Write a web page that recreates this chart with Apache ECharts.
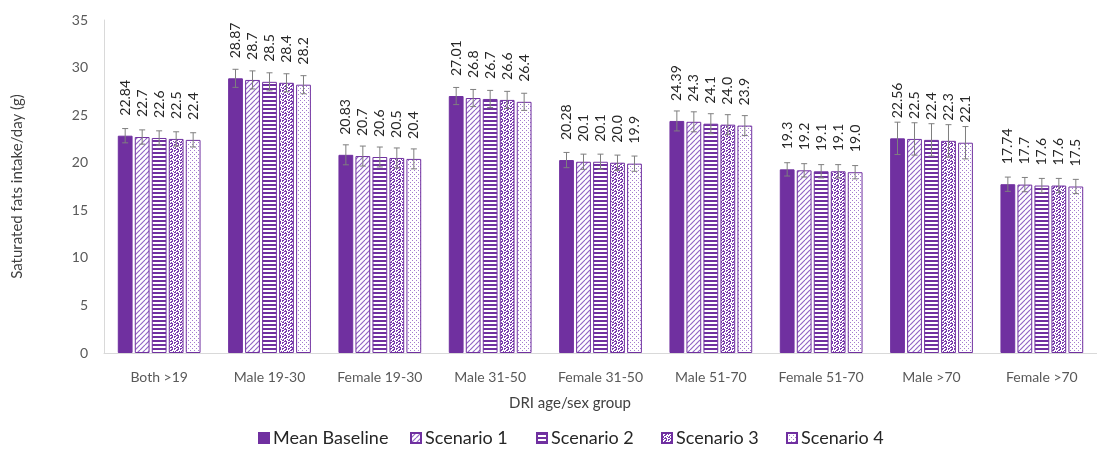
<!DOCTYPE html>
<html>
<head>
<meta charset="utf-8">
<script src="https://cdn.jsdelivr.net/npm/echarts@6/dist/echarts.min.js"></script>
<style>
  html, body { margin: 0; padding: 0; background: #ffffff; }
  #chart { width: 1097px; height: 450px; }
</style>
</head>
<body>
<div id="chart"></div>
<script>
// ---- Data -------------------------------------------------------------
const categories = ['Both >19', 'Male 19-30', 'Female 19-30', 'Male 31-50', 'Female 31-50',
                    'Male 51-70', 'Female 51-70', 'Male >70', 'Female >70'];
const seriesNames = ['Mean Baseline', 'Scenario 1', 'Scenario 2', 'Scenario 3', 'Scenario 4'];

const meanBaseline = [22.84, 28.87, 20.83, 27.01, 20.28, 24.39, 19.3, 22.56, 17.74];
const scenario1    = [22.7, 28.7, 20.7, 26.8, 20.1, 24.3, 19.2, 22.5, 17.7];
const scenario2    = [22.6, 28.5, 20.6, 26.7, 20.1, 24.1, 19.1, 22.4, 17.6];
const scenario3    = [22.5, 28.4, 20.5, 26.6, 20.0, 24.0, 19.1, 22.3, 17.6];
const scenario4    = [22.4, 28.2, 20.4, 26.4, 19.9, 23.9, 19.0, 22.1, 17.5];

// Half-width of the error bar for each age/sex group (g/day)
const errorMargins = [0.75, 0.95, 1.05, 0.9, 0.8, 1.05, 0.7, 1.7, 0.75];

const yMin = 0, yMax = 35, yInterval = 5;

// ---- Styling ----------------------------------------------------------
const PURPLE = '#7030a0';
const FONT = 'Lato, "Open Sans", sans-serif';
const BAR_GAP = 0.15, CATEGORY_GAP = 0.25;

function makePattern(size, draw) {
  const c = document.createElement('canvas');
  c.width = size; c.height = size;
  const ctx = c.getContext('2d');
  ctx.fillStyle = '#ffffff';
  ctx.fillRect(0, 0, size, size);
  draw(ctx, size);
  return { image: c, repeat: 'repeat' };
}
function pixelPattern(rows, color) {
  return makePattern(rows.length, (ctx) => {
    ctx.fillStyle = color;
    rows.forEach((r, y) => { for (let x = 0; x < r.length; x++) if (r[x] === 'X') ctx.fillRect(x, y, 1, 1); });
  });
}

const fills = [
  PURPLE,
  // wide upward diagonal
  makePattern(5, (ctx, s) => {
    ctx.strokeStyle = '#9266c6';
    ctx.lineWidth = 1.2;
    for (let o = -s; o <= s; o += s) {
      ctx.beginPath(); ctx.moveTo(o, s); ctx.lineTo(o + s, 0); ctx.stroke();
    }
  }),
  // horizontal stripes
  makePattern(4, (ctx, s) => { ctx.fillStyle = PURPLE; ctx.fillRect(0, 0, s, 2); }),
  // large confetti
  pixelPattern([
    'XX..X.',
    'X..XX.',
    '..XX..',
    '.X...X',
    'XX.X..',
    '..XXX.'
  ], '#7a3dad'),
  // small dots
  pixelPattern([
    'X...',
    '....',
    '..X.',
    '....'
  ], '#a47ccf')
];

const seriesValues = [meanBaseline, scenario1, scenario2, scenario3, scenario4];

const barSeries = seriesValues.map((vals, i) => ({
  type: 'bar',
  name: seriesNames[i],
  data: vals,
  barGap: (BAR_GAP * 100) + '%',
  barCategoryGap: (CATEGORY_GAP * 100) + '%',
  itemStyle: { color: fills[i], borderColor: PURPLE, borderWidth: 1 },
  label: {
    show: true,
    position: 'top',
    distance: 20,
    rotate: 90,
    align: 'left',
    verticalAlign: 'middle',
    fontFamily: FONT,
    fontSize: 14,
    color: '#262626',
    formatter: (p) => i === 0 ? String(p.value) : p.value.toFixed(1)
  },
  emphasis: { disabled: true },
  z: 2
}));

const errorSeries = seriesValues.map((vals, i) => ({
  type: 'custom',
  name: 'err-' + i,
  silent: true,
  z: 5,
  data: vals.map((v, j) => [j, v - errorMargins[j], v + errorMargins[j]]),
  renderItem(params, api) {
    const x = api.value(0);
    const lo = api.coord([x, api.value(1)]);
    const hi = api.coord([x, api.value(2)]);
    const band = api.size([1, 0])[0];
    const used = band * (1 - CATEGORY_GAP);
    const n = seriesValues.length;
    const w = used / (n + (n - 1) * BAR_GAP);
    const cx = lo[0] - used / 2 + i * w * (1 + BAR_GAP) + w / 2;
    const cap = 3;
    const style = { stroke: '#7f7f7f', lineWidth: 1 };
    return {
      type: 'group',
      children: [
        { type: 'line', shape: { x1: cx, y1: hi[1], x2: cx, y2: lo[1] }, style },
        { type: 'line', shape: { x1: cx - cap, y1: hi[1], x2: cx + cap, y2: hi[1] }, style },
        { type: 'line', shape: { x1: cx - cap, y1: lo[1], x2: cx + cap, y2: lo[1] }, style }
      ]
    };
  }
}));

const legendLefts = [258, 410, 536, 661, 786];
const legends = seriesNames.map((name, i) => ({
  data: [name],
  left: legendLefts[i],
  top: 429,
  padding: 0,
  icon: 'rect',
  itemWidth: 10,
  itemHeight: 10,
  itemGap: 0,
  selectedMode: false,
  textStyle: { fontFamily: FONT, fontSize: 18, color: '#262626', padding: [0, 0, 0, -1] }
}));

const chart = echarts.init(document.getElementById('chart'), null, { renderer: 'canvas' });
chart.setOption({
  animation: false,
  backgroundColor: '#ffffff',
  grid: { left: 104, top: 20, width: 1008, height: 333, containLabel: false },
  legend: legends,
  xAxis: {
    type: 'category',
    data: categories,
    axisLine: { lineStyle: { color: '#d9d9d9', width: 1 } },
    axisTick: { show: false },
    axisLabel: { fontFamily: FONT, fontSize: 14, color: '#595959', margin: 17, interval: 0 }
  },
  yAxis: {
    type: 'value',
    min: yMin,
    max: yMax,
    interval: yInterval,
    name: 'Saturated fats intake/day (g)',
    nameLocation: 'middle',
    nameGap: 79,
    nameTextStyle: { fontFamily: FONT, fontSize: 15, color: '#404040' },
    axisLine: { show: true, lineStyle: { color: '#d9d9d9', width: 1 } },
    axisTick: { show: false },
    splitLine: { show: false },
    axisLabel: { fontFamily: FONT, fontSize: 14, color: '#595959', margin: 16 }
  },
  graphic: [{
    type: 'text',
    left: 579 - 70,
    top: 396,
    style: { text: 'DRI age/sex group', font: '15px ' + FONT, fill: '#404040', width: 140, align: 'center' }
  }],
  series: barSeries.concat(errorSeries)
});
</script>
</body>
</html>
